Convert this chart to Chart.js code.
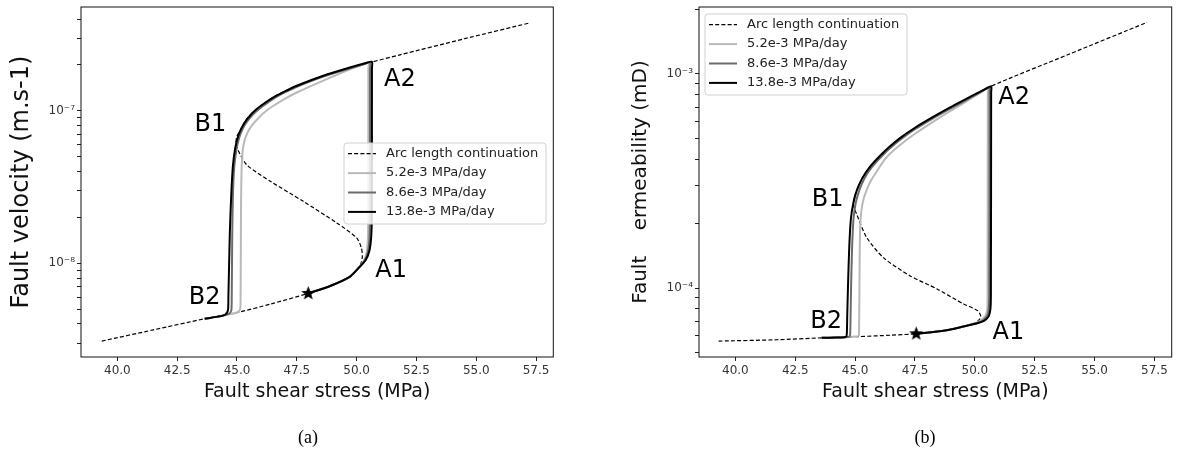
<!DOCTYPE html>
<html>
<head>
<meta charset="utf-8">
<script src="https://cdn.jsdelivr.net/npm/chart.js@4.4.1/dist/chart.umd.min.js"></script>
<style>
  body { margin: 0; background: #fff; }
  #wrap { position: relative; width: 1179px; height: 453px; }
  canvas { position: absolute; top: 0; }
  #chart-a { left: 0; }
  #chart-b { left: 590px; }
  .cap { position: absolute; top: 427px; width: 60px; text-align: center;
         font: 18px/20px "Liberation Serif", serif; color: #000; }
</style>
</head>
<body>
<div id="wrap">
  <canvas id="chart-a" width="590" height="453"></canvas>
  <canvas id="chart-b" width="589" height="453"></canvas>
  <div class="cap" style="left:278px">(a)</div>
  <div class="cap" style="left:895px">(b)</div>
</div>
<script>
// labels / ticks
const seriesLabels = ['Arc length continuation', '5.2e-3 MPa/day', '8.6e-3 MPa/day', '13.8e-3 MPa/day'];
const seriesColors = ['#000000', '#b9b9b9', '#6b6b6b', '#000000'];
const stressTicks = [40, 42.5, 45, 47.5, 50, 52.5, 55, 57.5];
const stressRange = [38.48, 58.22];

// (a) fault velocity
const velRange = [2.43e-9, 4.80e-7];
const velDecades = [1e-9, 1e-8, 1e-7];
const velDecadeLabels = ['10⁻⁹', '10⁻⁸', '10⁻⁷'];

const arcStressA = [39.35, 41.5, 43.65, 45.07, 46.41, 47.98, 48.92, 49.71, 50.10, 50.20, 50.24, 50.20, 50.0, 49.17, 47.77, 46.41, 45.41, 45.05, 44.96, 44.99, 45.13, 45.41, 45.83, 46.52, 47.5, 48.61, 49.72, 50.63, 51.81, 54.5, 57.25];
const arcVelA = [3.09e-9, 3.66e-9, 4.33e-9, 4.78e-9, 5.41e-9, 6.35e-9, 7.13e-9, 8.15e-9, 9.38e-9, 1.02e-8, 1.12e-8, 1.26e-8, 1.47e-8, 1.84e-8, 2.55e-8, 3.44e-8, 4.42e-8, 5.50e-8, 6.10e-8, 6.76e-8, 7.45e-8, 8.87e-8, 1.03e-7, 1.23e-7, 1.46e-7, 1.70e-7, 1.92e-7, 2.09e-7, 2.33e-7, 2.97e-7, 3.78e-7];

const slowStressA = [47.98, 48.92, 49.71, 50.05, 50.28, 50.42, 50.47, 50.485, 50.49, 50.49, 50.2, 49.72, 48.61, 47.5, 47.0, 46.52, 46.1, 45.83, 45.6, 45.42, 45.3, 45.23, 45.19, 45.17, 45.16, 45.15, 45.13, 45.0, 44.2, 43.65];
const slowVelA = [6.35e-9, 7.13e-9, 8.15e-9, 9.2e-9, 1.03e-8, 1.18e-8, 1.45e-8, 2.0e-8, 1.86e-7, 2.06e-7, 2.0e-7, 1.87e-7, 1.58e-7, 1.32e-7, 1.2e-7, 1.08e-7, 9.65e-8, 8.75e-8, 7.95e-8, 7.1e-8, 6.25e-8, 5.3e-8, 4.0e-8, 2.5e-8, 1.2e-8, 6.0e-9, 5.0e-9, 4.76e-9, 4.47e-9, 4.33e-9];

const midStressA = [47.98, 48.92, 49.71, 50.08, 50.33, 50.48, 50.54, 50.555, 50.56, 50.56, 50.3, 49.72, 48.61, 47.5, 47.0, 46.52, 46.1, 45.8, 45.55, 45.35, 45.2, 45.07, 44.97, 44.88, 44.83, 44.8, 44.78, 44.76, 44.65, 44.2, 43.65];
const midVelA = [6.35e-9, 7.13e-9, 8.15e-9, 9.3e-9, 1.04e-8, 1.2e-8, 1.5e-8, 2.0e-8, 1.88e-7, 2.08e-7, 2.02e-7, 1.90e-7, 1.68e-7, 1.44e-7, 1.32e-7, 1.20e-7, 1.08e-7, 9.9e-8, 9.05e-8, 8.2e-8, 7.4e-8, 6.5e-8, 5.5e-8, 4.2e-8, 2.8e-8, 1.5e-8, 6.0e-9, 4.9e-9, 4.66e-9, 4.47e-9, 4.33e-9];

const fastStressA = [47.98, 48.92, 49.71, 50.10, 50.38, 50.54, 50.61, 50.635, 50.64, 50.64, 50.35, 49.72, 48.61, 47.5, 47.0, 46.52, 46.1, 45.8, 45.55, 45.35, 45.2, 45.05, 44.93, 44.83, 44.76, 44.7, 44.64, 44.62, 44.5, 44.2, 43.65];
const fastVelA = [6.35e-9, 7.13e-9, 8.15e-9, 9.38e-9, 1.05e-8, 1.22e-8, 1.5e-8, 2.0e-8, 1.9e-7, 2.10e-7, 2.05e-7, 1.923e-7, 1.698e-7, 1.462e-7, 1.343e-7, 1.227e-7, 1.109e-7, 1.019e-7, 9.33e-8, 8.51e-8, 7.76e-8, 6.84e-8, 5.75e-8, 4.37e-8, 2.82e-8, 1.58e-8, 6.0e-9, 4.9e-9, 4.60e-9, 4.47e-9, 4.33e-9];

const starA = [47.98, 6.35e-9];
const marksA = [['A2', 51.81, 1.61e-7], ['B1', 43.89, 8.07e-8], ['B2', 43.65, 5.92e-9], ['A1', 51.44, 8.93e-9]];

// (b) fault permeability
const permRange = [4.77e-5, 2.05e-3];
const permDecades = [1e-5, 1e-4, 1e-3];
const permDecadeLabels = ['10⁻⁵', '10⁻⁴', '10⁻³'];

const arcStressB = [39.30, 41.72, 43.59, 45.16, 46.5, 47.53, 48.75, 49.53, 50.05, 50.22, 50.24, 50.12, 49.53, 48.42, 47.30, 46.18, 45.49, 45.07, 44.93, 45.0, 45.2, 45.47, 45.9, 46.41, 47.0, 47.66, 48.91, 50.63, 53.9, 57.19];
const arcPermB = [5.66e-5, 5.74e-5, 5.86e-5, 5.94e-5, 6.03e-5, 6.12e-5, 6.34e-5, 6.62e-5, 6.92e-5, 7.2e-5, 7.45e-5, 7.85e-5, 8.43e-5, 9.91e-5, 1.14e-4, 1.387e-4, 1.718e-4, 2.203e-4, 2.455e-4, 2.729e-4, 3.09e-4, 3.50e-4, 3.94e-4, 4.49e-4, 5.06e-4, 5.69e-4, 6.87e-4, 8.7e-4, 1.23e-3, 1.738e-3];

const slowStressB = [47.53, 48.75, 49.53, 50.05, 50.3, 50.46, 50.52, 50.53, 50.54, 50.54, 50.2, 49.6, 48.91, 48.2, 47.5, 46.9, 46.41, 46.18, 45.9, 45.65, 45.49, 45.35, 45.26, 45.21, 45.19, 45.18, 45.17, 45.165, 45.15, 45.0, 44.2, 43.6];
const slowPermB = [6.12e-5, 6.34e-5, 6.62e-5, 6.88e-5, 7.15e-5, 7.5e-5, 8.0e-5, 9.5e-5, 8.0e-4, 8.55e-4, 8.13e-4, 7.38e-4, 6.64e-4, 5.92e-4, 5.25e-4, 4.68e-4, 4.19e-4, 3.90e-4, 3.50e-4, 3.16e-4, 2.88e-4, 2.60e-4, 2.29e-4, 1.91e-4, 1.41e-4, 1.0e-4, 7.41e-5, 6.46e-5, 6.0e-5, 5.94e-5, 5.88e-5, 5.86e-5];

const midStressB = [47.53, 48.75, 49.53, 50.08, 50.36, 50.52, 50.58, 50.6, 50.61, 50.61, 50.3, 49.6, 48.91, 48.2, 47.5, 46.9, 46.41, 46.0, 45.65, 45.38, 45.17, 45.02, 44.93, 44.87, 44.83, 44.81, 44.8, 44.78, 44.7, 44.2, 43.6];
const midPermB = [6.12e-5, 6.34e-5, 6.62e-5, 6.85e-5, 7.1e-5, 7.45e-5, 8.0e-5, 9.5e-5, 8.1e-4, 8.65e-4, 8.28e-4, 7.50e-4, 6.82e-4, 6.15e-4, 5.51e-4, 4.94e-4, 4.45e-4, 4.0e-4, 3.61e-4, 3.24e-4, 2.85e-4, 2.48e-4, 2.09e-4, 1.51e-4, 1.0e-4, 7.41e-5, 6.46e-5, 5.96e-5, 5.92e-5, 5.88e-5, 5.86e-5];

const fastStressB = [47.53, 48.75, 49.53, 50.1, 50.4, 50.58, 50.65, 50.67, 50.68, 50.68, 50.35, 49.6, 48.91, 48.2, 47.5, 46.9, 46.41, 46.0, 45.6, 45.3, 45.07, 44.93, 44.82, 44.75, 44.7, 44.67, 44.66, 44.64, 44.55, 44.2, 43.6];
const fastPermB = [6.12e-5, 6.34e-5, 6.62e-5, 6.85e-5, 7.05e-5, 7.4e-5, 8.0e-5, 9.5e-5, 8.2e-4, 8.75e-4, 8.39e-4, 7.60e-4, 6.92e-4, 6.24e-4, 5.60e-4, 5.04e-4, 4.54e-4, 4.10e-4, 3.66e-4, 3.26e-4, 2.86e-4, 2.51e-4, 2.09e-4, 1.51e-4, 1.0e-4, 7.41e-5, 6.46e-5, 5.96e-5, 5.9e-5, 5.88e-5, 5.86e-5];

const starB = [47.55, 6.12e-5];
const marksB = [['A2', 51.64, 7.71e-4], ['B1', 43.85, 2.57e-4], ['B2', 43.79, 6.98e-5], ['A1', 51.40, 6.21e-5]];

const FONT = 'DejaVu Sans';

function pts(xs, ys) {
  return xs.map((x, i) => ({x: x, y: ys[i]}));
}

function logTicks(range, decades, labels) {
  const out = [];
  decades.forEach((d, i) => {
    for (let k = 1; k <= 9; k++) {
      const v = d * k;
      if (v >= range[0] && v <= range[1]) out.push({value: v, tag: k === 1 ? labels[i] : ''});
    }
  });
  return out;
}

function starImage(r) {
  const c = document.createElement('canvas');
  c.width = c.height = 2 * r + 2;
  const g = c.getContext('2d');
  g.beginPath();
  for (let i = 0; i < 10; i++) {
    const rr = i % 2 ? r * 0.42 : r;
    const a = -Math.PI / 2 + i * Math.PI / 5;
    g.lineTo(r + 1 + rr * Math.cos(a), r + 1 + rr * Math.sin(a));
  }
  g.closePath();
  g.fillStyle = '#000';
  g.fill();
  return c;
}
const star = starImage(7.5);

// frame, branch names and the legend box
const panelDecor = {
  id: 'panelDecor',
  afterDatasetsDraw(chart, args, opts) {
    const {ctx, chartArea: a, scales: {x, y}} = chart;
    ctx.save();
    ctx.strokeStyle = '#111';
    ctx.lineWidth = 1;
    ctx.strokeRect(a.left, a.top, a.right - a.left, a.bottom - a.top);

    ctx.font = '24px "' + FONT + '"';
    ctx.fillStyle = '#000';
    ctx.textAlign = 'center';
    ctx.textBaseline = 'middle';
    opts.marks.forEach(m => ctx.fillText(m[0], x.getPixelForValue(m[1]), y.getPixelForValue(m[2])));

    const L = opts.legend;
    const bx = a.left + L.dx, by = a.top + L.dy;
    ctx.beginPath();
    ctx.roundRect(bx, by, 202, 81, 3);
    ctx.fillStyle = 'rgba(255,255,255,0.85)';
    ctx.fill();
    ctx.strokeStyle = '#d0d0d0';
    ctx.stroke();
    ctx.font = '13px "' + FONT + '"';
    ctx.textAlign = 'left';
    chart.data.datasets.filter(d => d.label).forEach((d, i) => {
      const yy = by + 10.7 + i * 19.4;
      ctx.beginPath();
      ctx.setLineDash(d.borderDash || []);
      ctx.strokeStyle = d.borderColor;
      ctx.lineWidth = d.borderWidth;
      ctx.moveTo(bx + 4, yy);
      ctx.lineTo(bx + 32, yy);
      ctx.stroke();
      ctx.setLineDash([]);
      ctx.fillStyle = '#222';
      ctx.fillText(d.label, bx + 42, yy);
    });
    ctx.restore();
  }
};

function lineSet(i, data) {
  return {
    label: seriesLabels[i],
    data: data,
    showLine: true,
    borderColor: seriesColors[i],
    borderWidth: i === 0 ? 1.2 : 2,
    borderDash: i === 0 ? [4, 2.2] : [],
    pointRadius: 0,
    pointHitRadius: 0,
    tension: 0.25,
    order: 4 - i
  };
}

function makeChart(el, cfg) {
  return new Chart(document.querySelector(el), {
    type: 'scatter',
    data: {
      datasets: [
        lineSet(0, cfg.arc),
        lineSet(1, cfg.slow),
        lineSet(2, cfg.mid),
        lineSet(3, cfg.fast),
        {data: [{x: cfg.star[0], y: cfg.star[1]}], pointStyle: star, pointRadius: 6, showLine: false, order: 0}
      ]
    },
    plugins: [panelDecor],
    options: {
      responsive: false,
      animation: false,
      layout: {padding: {top: 4, left: 0, right: cfg.padRight, bottom: 0}},
      plugins: {
        legend: {display: false},
        tooltip: {enabled: false},
        panelDecor: {marks: cfg.marks, legend: cfg.legend}
      },
      scales: {
        x: {
          type: 'linear',
          min: stressRange[0],
          max: stressRange[1],
          afterBuildTicks: s => { s.ticks = stressTicks.map(v => ({value: v})); },
          afterFit: s => { s.height = 96; s.paddingLeft = 0; s.paddingRight = 0; },
          ticks: {callback: v => v.toFixed(1), font: {family: FONT, size: 12}, color: '#333', padding: 3, maxRotation: 0, autoSkip: false},
          grid: {display: true, drawOnChartArea: false, tickLength: 4, tickColor: '#222'},
          border: {display: false},
          title: {display: true, text: 'Fault shear stress (MPa)', font: {family: FONT, size: 19}, color: '#111', padding: {top: 0, bottom: 50}}
        },
        y: {
          type: 'logarithmic',
          min: cfg.range[0],
          max: cfg.range[1],
          afterBuildTicks: s => { s.ticks = logTicks(cfg.range, cfg.decades, cfg.decadeLabels); },
          afterFit: s => { s.width = cfg.yWidth; s.paddingTop = 0; s.paddingBottom = 0; },
          ticks: {callback: (v, i, t) => t[i].tag, font: {family: FONT, size: 12}, color: '#333', padding: 2, autoSkip: false},
          grid: {display: true, drawOnChartArea: false, tickLength: 4, tickColor: '#222'},
          border: {display: false},
          title: {display: true, text: cfg.yTitle, font: {family: FONT, size: cfg.yTitleSize}, color: '#111', padding: {top: cfg.yTitlePad, bottom: 0}}
        }
      }
    }
  });
}

const chartA = makeChart('#chart-a', {
  arc: pts(arcStressA, arcVelA),
  slow: pts(slowStressA, slowVelA),
  mid: pts(midStressA, midVelA),
  fast: pts(fastStressA, fastVelA),
  star: starA,
  marks: marksA,
  legend: {dx: 263, dy: 136},
  range: velRange,
  decades: velDecades,
  decadeLabels: velDecadeLabels,
  yTitle: 'Fault velocity (m.s-1)',
  yTitleSize: 24,
  yTitlePad: 7,
  yWidth: 81,
  padRight: 36.7
});

const chartB = makeChart('#chart-b', {
  arc: pts(arcStressB, arcPermB),
  slow: pts(slowStressB, slowPermB),
  mid: pts(midStressB, midPermB),
  fast: pts(fastStressB, fastPermB),
  star: starB,
  marks: marksB,
  legend: {dx: 6, dy: 7},
  range: permRange,
  decades: permDecades,
  decadeLabels: permDecadeLabels,
  yTitle: 'Fault    ermeability (mD)',
  yTitleSize: 20,
  yTitlePad: 39,
  yWidth: 109,
  padRight: 7.3
});
</script>
</body>
</html>
